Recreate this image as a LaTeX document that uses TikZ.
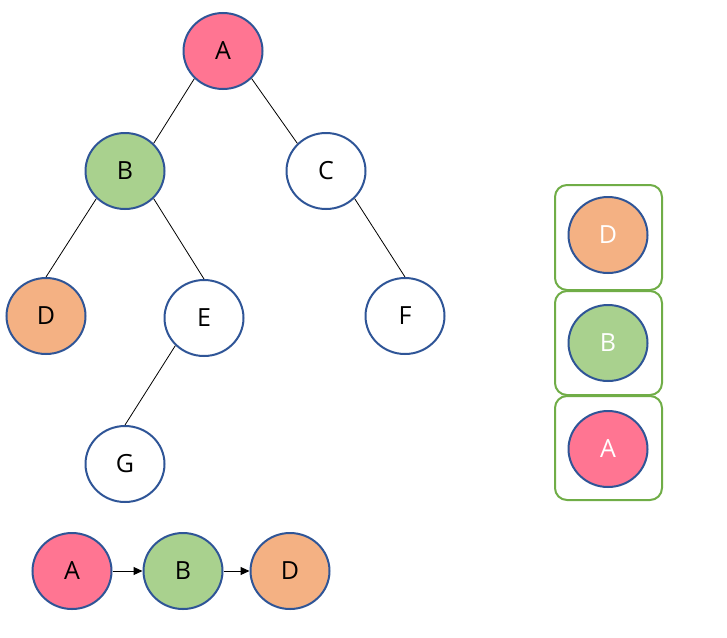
\documentclass[tikz,border=0pt]{standalone}
\usepackage{fontspec}
\setmainfont{Open Sans}
\usetikzlibrary{shapes.geometric,arrows.meta}
\definecolor{pinkc}{HTML}{FF7592}
\definecolor{greenc}{HTML}{A9D18E}
\definecolor{orangec}{HTML}{F4B183}
\definecolor{bluec}{HTML}{2F5597}
\definecolor{boxc}{HTML}{70AD47}
\tikzset{
  nd/.style={ellipse, draw=bluec, line width=2pt, minimum width=79pt, minimum height=76pt, inner sep=0pt, font=\fontsize{25}{30}\selectfont},
  pk/.style={nd, fill=pinkc},
  gr/.style={nd, fill=greenc},
  og/.style={nd, fill=orangec},
  wh/.style={nd, fill=white},
  edge/.style={draw=black, line width=0.8pt},
  arr/.style={draw=black, line width=1pt, -{Triangle[length=9pt,width=8pt]}},
  stk/.style={draw=boxc, line width=2pt, rounded corners=12pt, fill=white},
  wt/.style={text=white}
}
\begin{document}
\begin{tikzpicture}[x=1pt,y=-1pt]
\useasboundingbox (0,0) rectangle (727,637);
% tree
\node[pk] (A) at (223,51) {A};
\node[gr] (B) at (125,171) {B};
\node[wh] (C) at (326,171) {C};
\node[og] (D) at (46,316) {D};
\node[wh] (E) at (204,318) {E};
\node[wh] (F) at (405,316) {F};
\node[wh] (G) at (125,464) {G};
\draw[edge] (A.south west) -- (B.north east);
\draw[edge] (A.south east) -- (C.north west);
\draw[edge] (B.south west) -- (D.north);
\draw[edge] (B.south east) -- (E.north);
\draw[edge] (C.south east) -- (F.north);
\draw[edge] (E.south west) -- (G.north);
% path
\node[pk] (PA) at (72,571) {A};
\node[gr] (PB) at (183,571) {B};
\node[og] (PD) at (290,571) {D};
\draw[arr] (PA) -- (PB);
\draw[arr] (PB) -- (PD);
% stack
\node[stk, minimum width=107pt, minimum height=105pt] (S1) at (608.5,237.5) {};
\node[stk, minimum width=107pt, minimum height=104pt] (S2) at (608.5,343) {};
\node[stk, minimum width=107pt, minimum height=104pt] (S3) at (608.5,448) {};
\node[og, wt] (SD) at (608,235) {D};
\node[gr, wt] (SB) at (608,343) {B};
\node[pk, wt] (SA) at (608,449) {A};
\end{tikzpicture}
\end{document}
